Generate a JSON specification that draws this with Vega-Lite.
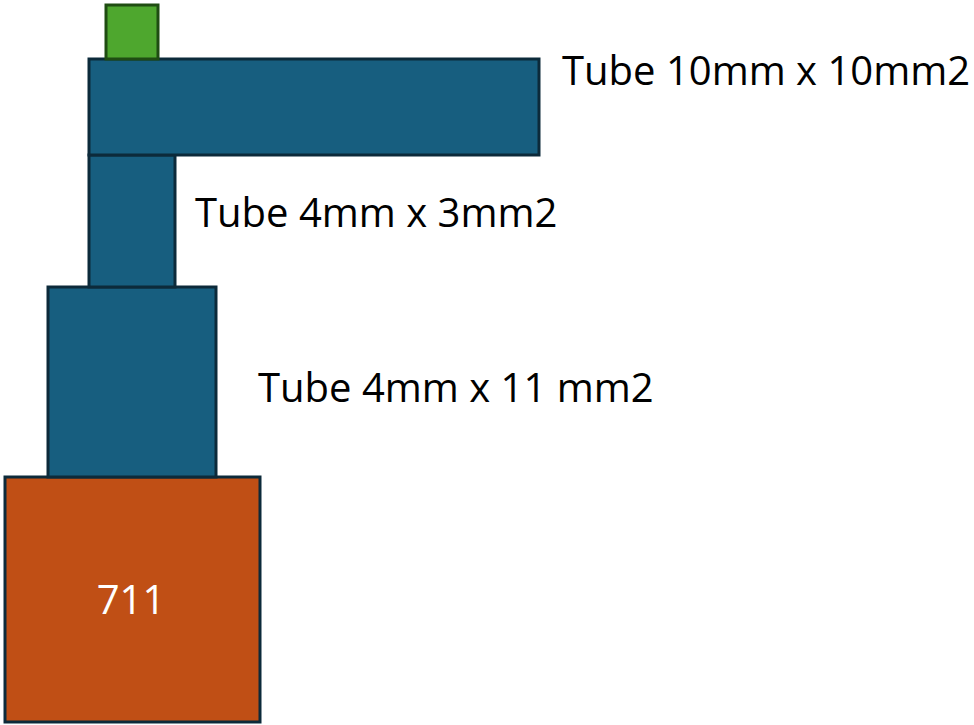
{
  "$schema": "https://vega.github.io/schema/vega-lite/v6.json",
  "width": 974,
  "height": 725,
  "autosize": {"type": "fit", "contains": "padding"},
  "padding": 0,
  "background": "white",
  "config": {"view": {"stroke": null}},
  "datasets": {
    "parts": [
      {"name": "base", "kind": "base", "x": 5, "x2": 260, "y": 477, "y2": 722},
      {"name": "tube 4x11", "kind": "tube", "x": 48, "x2": 216, "y": 287, "y2": 477},
      {"name": "tube 4x3", "kind": "tube", "x": 89, "x2": 175, "y": 155, "y2": 287},
      {"name": "tube 10x10", "kind": "tube", "x": 89, "x2": 539, "y": 59, "y2": 155},
      {"name": "cap", "kind": "cap", "x": 106, "x2": 158, "y": 5, "y2": 59}
    ],
    "labels": [
      {"text": "Tube 10mm x 10mm2", "x": 562, "y": 85},
      {"text": "Tube 4mm x 3mm2", "x": 195, "y": 227},
      {"text": "Tube 4mm x 11 mm2", "x": 258, "y": 402}
    ],
    "inner": [
      {"text": "711", "x": 131, "y": 614}
    ]
  },
  "layer": [
    {
      "data": {"name": "parts"},
      "mark": {"type": "rect", "strokeWidth": 3},
      "encoding": {
        "x": {"field": "x", "type": "quantitative", "scale": {"domain": [0, 974], "nice": false, "zero": false}, "axis": null},
        "x2": {"field": "x2"},
        "y": {"field": "y", "type": "quantitative", "scale": {"domain": [725, 0], "nice": false, "zero": false}, "axis": null},
        "y2": {"field": "y2"},
        "fill": {"field": "kind", "type": "nominal", "scale": {"domain": ["tube", "cap", "base"], "range": ["#175E7F", "#4EA72E", "#C04F15"]}, "legend": null},
        "stroke": {"field": "kind", "type": "nominal", "scale": {"domain": ["tube", "cap", "base"], "range": ["#0C2A3A", "#1F4D12", "#0C2A3A"]}, "legend": null}
      }
    },
    {
      "data": {"name": "labels"},
      "mark": {"type": "text", "font": "Open Sans", "fontSize": 40, "baseline": "alphabetic", "align": "left", "color": "#000000"},
      "encoding": {
        "x": {"field": "x", "type": "quantitative"},
        "y": {"field": "y", "type": "quantitative"},
        "text": {"field": "text"}
      }
    },
    {
      "data": {"name": "inner"},
      "mark": {"type": "text", "font": "Open Sans", "fontSize": 40, "baseline": "alphabetic", "align": "center", "color": "#FFFFFF"},
      "encoding": {
        "x": {"field": "x", "type": "quantitative"},
        "y": {"field": "y", "type": "quantitative"},
        "text": {"field": "text"}
      }
    }
  ]
}
